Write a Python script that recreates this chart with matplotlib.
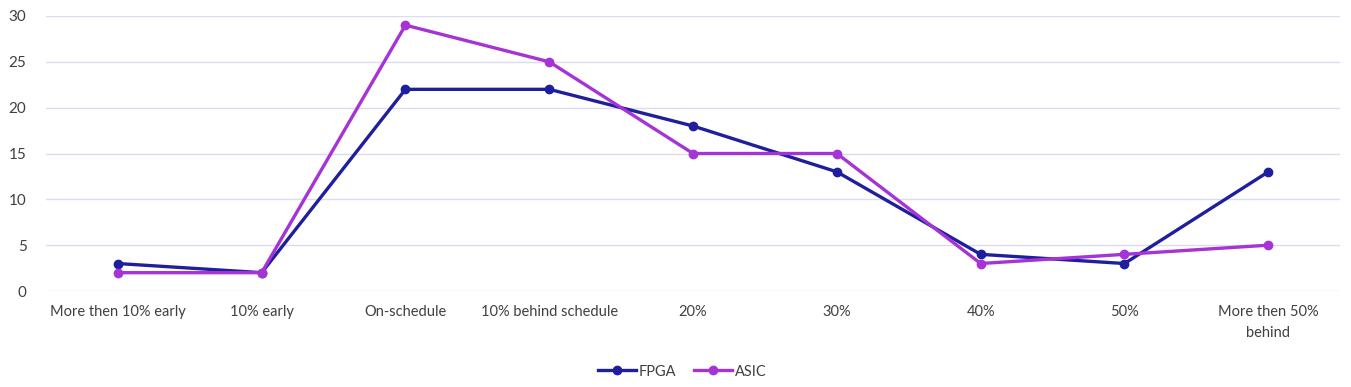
import matplotlib
matplotlib.use("Agg")
import matplotlib.pyplot as plt

categories = ["More then 10% early", "10% early", "On-schedule", "10% behind schedule",
              "20%", "30%", "40%", "50%", "More then 50%\nbehind"]
fpga = [3, 2, 22, 22, 18, 13, 4, 3, 13]
asic = [2, 2, 29, 25, 15, 15, 3, 4, 5]

plt.rcParams["font.family"] = ["Lato", "DejaVu Sans"]
text_color = "#404040"

fig = plt.figure(figsize=(13.51, 3.87), dpi=100)
ax = fig.add_axes([0.034, 0.248, 0.958, 0.7107])

x = range(len(categories))
ax.plot(x, fpga, color="#1f1f9e", lw=2.4, marker="o", ms=6, label="FPGA", zorder=3)
ax.plot(x, asic, color="#a633d6", lw=2.4, marker="o", ms=6, label="ASIC", zorder=3)

ax.set_xlim(-0.5, len(categories) - 0.5)
ax.set_ylim(0, 30)
ax.set_yticks(range(0, 31, 5))
ax.set_xticks(list(x))
ax.set_xticklabels(categories, fontsize=10.5, color=text_color, linespacing=1.6)
ax.tick_params(axis="y", labelsize=11, colors=text_color, length=0, pad=14)
ax.tick_params(axis="x", length=0, pad=10)
ax.grid(axis="y", color="#dcdcf0", lw=1)
ax.set_axisbelow(True)
for s in ax.spines.values():
    s.set_visible(False)

fig.legend(loc="center", bbox_to_anchor=(0.505, 0.04), ncol=2, frameon=False,
           fontsize=10.5, labelcolor=text_color, handlelength=2.6,
           handletextpad=0.2, columnspacing=1.2)

fig.savefig("out.png", dpi=100)
